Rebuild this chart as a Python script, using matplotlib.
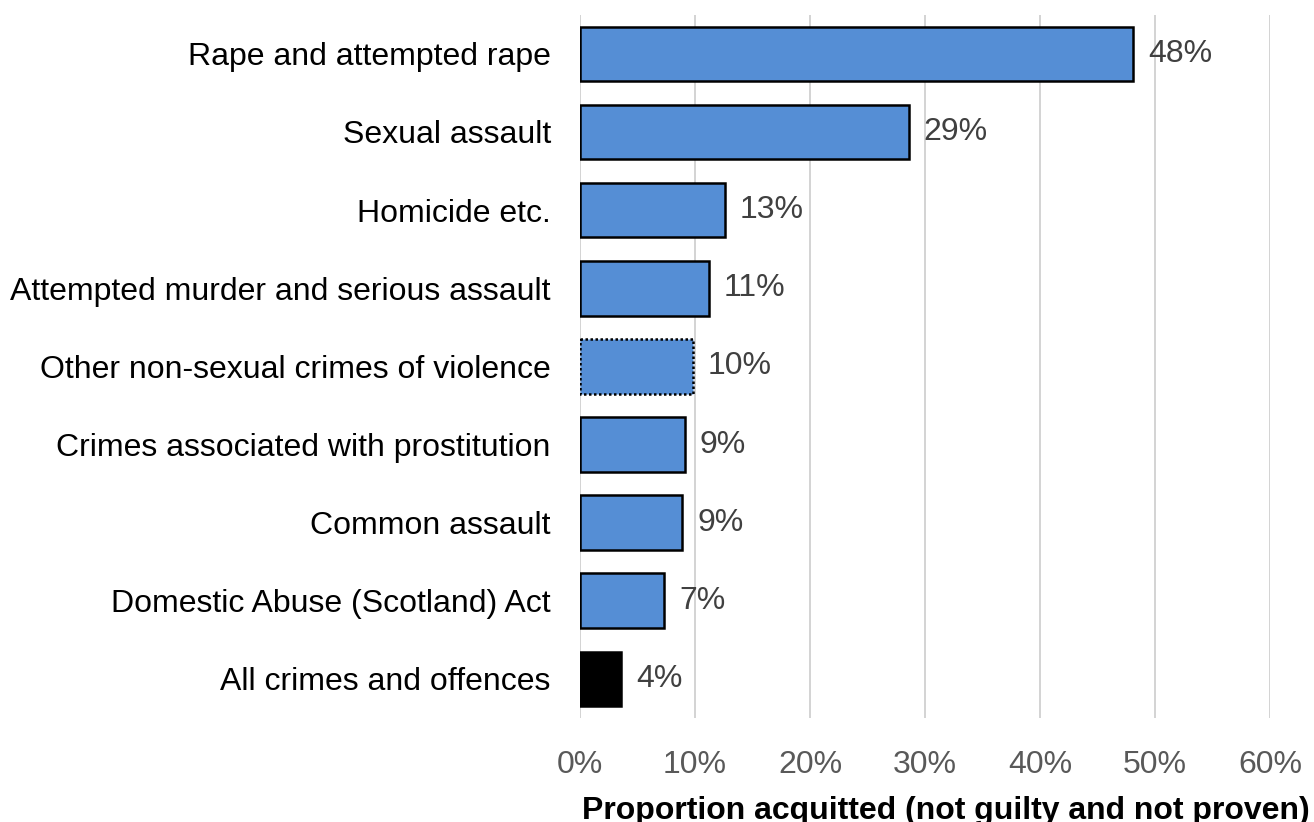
import matplotlib
matplotlib.use("Agg")
import matplotlib.pyplot as plt
from matplotlib.ticker import FuncFormatter, MultipleLocator

plt.rcParams['font.family'] = ['Liberation Sans', 'DejaVu Sans']

categories = [
    "Rape and attempted rape",
    "Sexual assault",
    "Homicide etc.",
    "Attempted murder and serious assault",
    "Other non-sexual crimes of violence",
    "Crimes associated with prostitution",
    "Common assault",
    "Domestic Abuse (Scotland) Act",
    "All crimes and offences",
]
acquitted_pct = [48.1, 28.6, 12.6, 11.2, 9.8, 9.1, 8.9, 7.3, 3.6]
bar_colors = ["#558ed5"] * 8 + ["#000000"]
edge_styles = ["solid"] * 4 + [(0, (1, 1))] + ["solid"] * 4

fig = plt.figure(figsize=(13.14, 8.22), dpi=100)
ax = fig.add_axes([0.4414, 0.1265, 0.5251, 0.8555])

FS = 23
y = list(range(len(categories)))
for yi, val, col, ls in zip(y, acquitted_pct, bar_colors, edge_styles):
    ax.barh(yi, val, height=0.7, color=col, edgecolor="black",
            linewidth=1.8, linestyle=ls, zorder=3)
    ax.text(val + 1.3, yi, f"{val:.0f}%", va="center", ha="left",
            fontsize=FS, color="#404040", zorder=4)

ax.set_xlim(0, 60)
ax.set_ylim(len(categories) - 0.5, -0.5)
ax.set_yticks(y)
ax.set_yticklabels(categories, fontsize=FS, color="black")
ax.xaxis.set_major_locator(MultipleLocator(10))
ax.xaxis.set_major_formatter(FuncFormatter(lambda v, p: f"{int(v)}%"))
ax.tick_params(axis="x", labelsize=FS, labelcolor="#595959", length=0, pad=23)
ax.tick_params(axis="y", length=0, pad=21)
ax.grid(axis="x", color="#d0d0d0", linewidth=1.3, zorder=0)
for s in ax.spines.values():
    s.set_visible(False)
ax.set_xlabel("Proportion acquitted (not guilty and not proven)",
              fontsize=FS, fontweight="bold")
ax.xaxis.set_label_coords((946 - 580) / 690, -0.111)

fig.savefig("out.png", dpi=100)
